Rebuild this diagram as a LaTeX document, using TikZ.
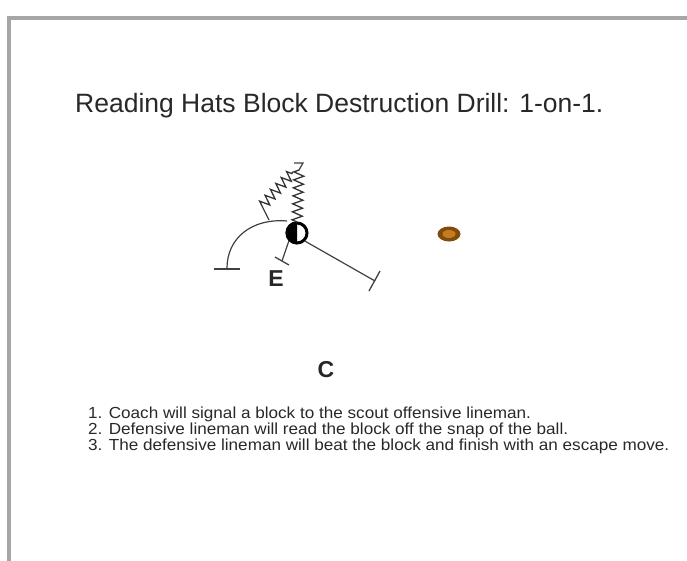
\documentclass[tikz,border=0pt]{standalone}
\usepackage{fontspec}
\setmainfont{Liberation Sans}
\usetikzlibrary{decorations.pathmorphing,calc,shapes.geometric}
\definecolor{txt}{RGB}{40,40,40}
\definecolor{ballout}{RGB}{130,75,10}
\definecolor{ballin}{RGB}{195,125,30}
\tikzset{
  route/.style={draw=black!75, line width=1.2pt},
  zig/.style={draw=black!80, line width=1.3pt, decorate, decoration={zigzag, segment length=8pt, amplitude=5pt}},
  bar/.style={draw=black!75, line width=1.3pt},
  lbl/.style={font=\fontsize{23}{26}\selectfont\bfseries, text=black!85, inner sep=0pt},
  line/.style={anchor=base west, font=\fontsize{16}{18}\selectfont, text=txt, inner sep=0pt, xscale=1.07}
}
\begin{document}
\begin{tikzpicture}[x=1pt,y=-1pt]
\useasboundingbox (0,0) rectangle (687,560);
% frame
\draw[gray!70, line width=3.5pt] (9,562) -- (9,18) -- (690,18);
% title
\node[anchor=base west, inner sep=0pt, font=\fontsize{26.5}{30}\selectfont, text=txt] (title) at (75,112) {Reading Hats Block Destruction Drill: 1-on-1.};
% offensive lineman
\node[circle, minimum size=23pt, inner sep=0pt] (o) at (297,233) {};
\fill[black] (o.north) arc[start angle=90, end angle=270, radius=11.5pt] -- cycle;
\draw[black, line width=3pt] (297,233) circle[radius=10pt];
% arc route
\coordinate (a0) at (227,268);
\coordinate (a1) at (287,221);
\draw[route] (a0) .. controls (227,238) and (252,218) .. (a1);
\coordinate (b1) at (214,269);
\coordinate (b2) at (240,269);
\draw[bar] (b1) -- (b2);
% zigzags
\coordinate (z1a) at (269,220);
\coordinate (z1s) at (262,206);
\coordinate (z1e) at (293,172);
\draw[route] (z1a) -- (z1s);
\draw[zig] (z1s) -- (z1e);
\coordinate (z2s) at (297,222);
\coordinate (z2e) at (299,170);
\coordinate (z2t) at (294,163);
\draw[zig] (z2s) -- (z2e);
\draw[route] (z2e) -- (303,163) -- (z2t);
% short route to E
\coordinate (e0) at (282,261);
\draw[route] (o.south west) -- (e0);
\draw[bar] ($(e0)+(-7,-4)$) -- ($(e0)+(7,4)$);
\node[lbl] (E) at (276,279) {E};
% long route
\coordinate (r0) at (375,281);
\draw[route] (o.south east) -- (r0);
\draw[bar] (380,271) -- (369,291);
% ball
\node[ellipse, draw=none, fill=ballout, minimum width=23pt, minimum height=15pt, inner sep=0pt] (ball) at (449,234) {};
\fill[ballin] (449,234) ellipse[x radius=6.5pt, y radius=4pt];
% C
\node[lbl] (C) at (326,370) {C};
% instructions
\node[line] (l1) at (88,418) {1. Coach will signal a block to the scout offensive lineman.};
\node[line] (l2) at (88,434) {2. Defensive lineman will read the block off the snap of the ball.};
\node[line] (l3) at (88,450) {3. The defensive lineman will beat the block and finish with an escape move.};
\end{tikzpicture}
\end{document}
